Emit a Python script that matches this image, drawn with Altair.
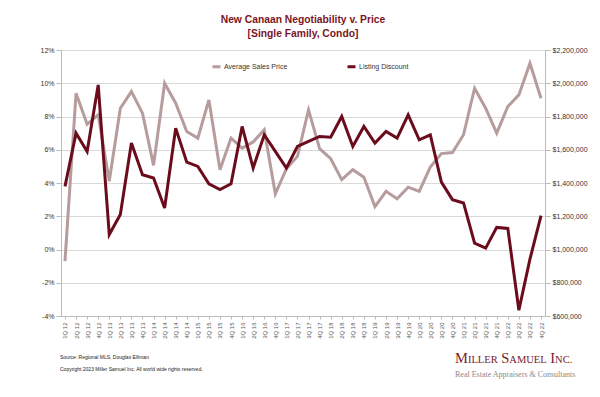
import altair as alt
import pandas as pd

quarters = ["1Q 12", "2Q 12", "3Q 12", "4Q 12", "1Q 13", "2Q 13", "3Q 13", "4Q 13",
            "1Q 14", "2Q 14", "3Q 14", "4Q 14", "1Q 15", "2Q 15", "3Q 15", "4Q 15",
            "1Q 16", "2Q 16", "3Q 16", "4Q 16", "1Q 17", "2Q 17", "3Q 17", "4Q 17",
            "1Q 18", "2Q 18", "3Q 18", "4Q 18", "1Q 19", "2Q 19", "3Q 19", "4Q 19",
            "1Q 20", "2Q 20", "3Q 20", "4Q 20", "1Q 21", "2Q 21", "3Q 21", "4Q 21",
            "1Q 22", "2Q 22", "3Q 22", "4Q 22"]

listing_discount = [3.8, 7.0, 5.9, 9.9, 0.9, 2.1, 6.4, 4.5, 4.3, 2.5, 7.3, 5.25,
                    5.0, 3.95, 3.6, 3.95, 7.4, 4.9, 6.9, 5.9, 4.9, 6.2, 6.5, 6.8,
                    6.75, 8.0, 6.2, 7.4, 6.4, 7.1, 6.7, 8.1, 6.6, 6.9, 4.05, 3.0,
                    2.8, 0.38, 0.08, 1.33, 1.27, -3.65, -0.58, 2.04]

avg_sales_price = [930000, 1940000, 1754000, 1810000, 1410000, 1850000, 1950000, 1820000,
                   1506000, 2000000, 1880000, 1710000, 1670000, 1900000, 1480000, 1670000,
                   1610000, 1647000, 1720000, 1335000, 1486000, 1560000, 1840000, 1607000,
                   1546000, 1420000, 1480000, 1435000, 1258000, 1350000, 1305000, 1375000,
                   1350000, 1496000, 1577000, 1583000, 1690000, 1970000, 1850000, 1700000,
                   1860000, 1930000, 2120000, 1910000]

series_names = ["Average Sales Price", "Listing Discount"]
series_colors = ["#b69c9c", "#6b0c1c"]

title_lines = ["New Canaan Negotiability v. Price", "[Single Family, Condo]"]
source_lines = ["Source: Regional MLS, Douglas Elliman",
                "Copyright 2023 Miller Samuel Inc.  All world wide rights reserved."]
# logo text "Miller Samuel Inc." set in small caps: (piece, is_capital)
logo_pieces = [("M", True), ("ILLER", False), (" ", True), ("S", True), ("AMUEL", False),
               (" ", True), ("I", True), ("NC.", False)]
logo_tagline = "Real Estate Appraisers & Consultants"

df = pd.DataFrame({"quarter": quarters, "discount": listing_discount, "price": avg_sales_price})

color_scale = alt.Scale(domain=series_names, range=series_colors)
legend = alt.Legend(title=None, orient="none", legendX=150, legendY=11, direction="horizontal",
                    symbolType="stroke", symbolStrokeWidth=3, symbolSize=64,
                    labelFontSize=7, labelFont="Liberation Sans", labelColor="#333333",
                    columnPadding=53, labelOffset=2)

x_enc = alt.X("quarter:N", sort=quarters, title=None,
              scale=alt.Scale(type="point", padding=0.36),
              axis=alt.Axis(labelAngle=-90, labelFontSize=6, labelFont="Liberation Sans",
                            labelColor="#555555", tickSize=3, tickColor="#bbbbbb",
                            domainColor="#bbbbbb", labelPadding=3, grid=False))

price_line = alt.Chart(df).transform_calculate(
    series="'" + series_names[0] + "'"
).mark_line(strokeWidth=3, strokeJoin="miter").encode(
    x=x_enc,
    y=alt.Y("price:Q", title=None,
            scale=alt.Scale(domain=[600000, 2200000], nice=False),
            axis=alt.Axis(orient="right", values=list(range(600000, 2200001, 200000)),
                          format="$,.0f", grid=False, labelFontSize=7,
                          labelFont="Liberation Sans", labelColor="#333333",
                          tickSize=5, tickColor="#bbbbbb", domainColor="#bbbbbb")),
    color=alt.Color("series:N", scale=color_scale, legend=legend),
)

disc_line = alt.Chart(df).transform_calculate(
    series="'" + series_names[1] + "'"
).mark_line(strokeWidth=3, strokeJoin="miter").encode(
    x=x_enc,
    y=alt.Y("discount:Q", title=None,
            scale=alt.Scale(domain=[-4, 12], nice=False),
            axis=alt.Axis(orient="left", values=list(range(-4, 13, 2)),
                          labelExpr="datum.value + '%'", grid=True, gridColor="#d9d9d9",
                          labelFontSize=7, labelFont="Liberation Sans", labelColor="#333333",
                          tickSize=5, tickColor="#bbbbbb", domainColor="#bbbbbb")),
    color=alt.Color("series:N", scale=color_scale, legend=legend),
)

src1 = alt.Chart(pd.DataFrame({"t": [source_lines[0]]})).mark_text(
    align="left", baseline="middle", fontSize=5, font="Liberation Sans", color="#222222"
).encode(x=alt.value(-1), y=alt.value(307), text="t:N")
src2 = alt.Chart(pd.DataFrame({"t": [source_lines[1]]})).mark_text(
    align="left", baseline="middle", fontSize=5, font="Liberation Sans", color="#222222"
).encode(x=alt.value(-1), y=alt.value(319), text="t:N")

# Times / Liberation Serif advance widths (em) for the logo glyphs
glyph_w = {"M": .889, "I": .333, "L": .611, "E": .611, "R": .667, "S": .556, "A": .722,
           "U": .722, "N": .722, "C": .667, ".": .25, " ": .25}
big, small = 14.5, 10.5
logo_layers = []
cur_x = 394.0
for piece, cap in logo_pieces:
    fs = big if cap else small
    if piece.strip():
        logo_layers.append(
            alt.Chart(pd.DataFrame({"t": [piece]})).mark_text(
                align="left", baseline="alphabetic", fontSize=fs,
                font="Liberation Serif", color="#7a1a2b"
            ).encode(x=alt.value(cur_x), y=alt.value(313), text="t:N")
        )
    cur_x += sum(glyph_w[c] for c in piece) * fs

logo2 = alt.Chart(pd.DataFrame({"t": [logo_tagline]})).mark_text(
    align="left", baseline="middle", fontSize=8, font="Liberation Serif", color="#8a8a8a"
).encode(x=alt.value(394), y=alt.value(325), text="t:N")

chart = alt.layer(price_line, disc_line, src1, src2, *logo_layers, logo2).resolve_scale(
    y="independent"
).properties(
    width=484, height=266,
    title=alt.TitleParams(text=title_lines, fontSize=10.3, font="Liberation Sans",
                          fontWeight="bold", color="#7a1526", anchor="middle",
                          offset=7, lineHeight=13.5),
    autosize=alt.AutoSizeParams(type="none"),
    padding={"left": 53, "top": 42, "right": 47, "bottom": 73},
).configure_view(stroke=None)

chart.save("out.html", embed_options={"renderer": "svg", "actions": False})
